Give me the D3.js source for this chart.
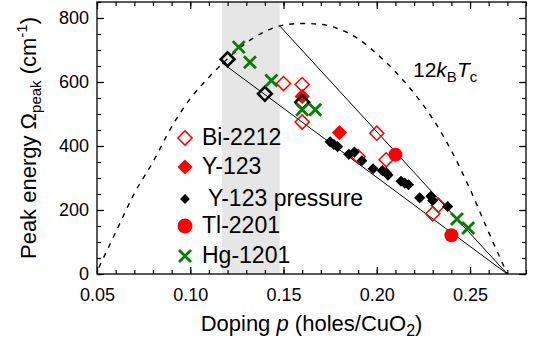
<!DOCTYPE html>
<html>
<head>
<meta charset="utf-8">
<script src="https://cdn.jsdelivr.net/npm/d3@7"></script>
<style>
  html, body { margin: 0; padding: 0; background: #fff; }
  svg { display: block; font-family: "Liberation Sans", Arial, sans-serif; }
</style>
</head>
<body>
<svg id="chart" width="540" height="345"></svg>
<script>
// Doping p vs. peak energy (cm^-1)
const bi2212P     = [0.150, 0.160, 0.160, 0.190, 0.200, 0.205, 0.230, 0.233];
const bi2212Omega = [595,   592,   475,   367,   440,   357,   188,   215];

const y123P     = [0.160, 0.180];
const y123Omega = [555,   442];

const openBlackP     = [0.120, 0.140, 0.160];
const openBlackOmega = [671,   563,   537];

const y123PressureP     = [0.175, 0.177, 0.179, 0.185, 0.188, 0.192, 0.198, 0.203, 0.205, 0.206, 0.213, 0.215, 0.217, 0.223, 0.229, 0.230, 0.238];
const y123PressureOmega = [413,   405,   398,   374,   381,   354,   329,   323,   317,   309,   290,   284,   279,   238,   243,   230,   211];

const tl2201P     = [0.210, 0.240];
const tl2201Omega = [373,   121];

const hg1201P     = [0.126, 0.132, 0.1435, 0.160, 0.167, 0.243, 0.249];
const hg1201Omega = [709,   662,   605,    513,   513,   172,   144];

// 12 kB Tc dome
const domeP     = [0.051, 0.06, 0.07, 0.08, 0.09, 0.10, 0.11, 0.12, 0.13, 0.14, 0.15, 0.16, 0.17, 0.18, 0.19, 0.20, 0.21, 0.22, 0.23, 0.24, 0.25, 0.26, 0.27];
const domeOmega = [20,    130,  252,  350,  460,  548,  615,  673,  722,  758,  778,  783,  780,  765,  735,  688,  632,  565,  485,  385,  265,  130,  0];

// guide lines converging at p = 0.27
const guideStartP     = [0.117, 0.148];
const guideStartOmega = [660,   775];
const guideEnd        = [0.27, 0];

// shaded doping window
const bandP = [0.117, 0.148];

const xTicks = [0.05, 0.10, 0.15, 0.20, 0.25];
const xTickLabels = ["0.05", "0.10", "0.15", "0.20", "0.25"];
const yTicks = [0, 200, 400, 600, 800];
const yTickLabels = ["0", "200", "400", "600", "800"];

const legendItems = ["Bi-2212", "Y-123", " Y-123 pressure", "Tl-2201", "Hg-1201"];

const RED = "#ff0000", GREEN = "#008000";

const svg = d3.select("#chart");
const m = { left: 97, right: 14, top: 2, bottom: 71 };
const W = 540, H = 345;
const x = d3.scaleLinear().domain([0.05, 0.28]).range([m.left, W - m.right]);
const y = d3.scaleLinear().domain([0, 850]).range([H - m.bottom, m.top]);

const plot = svg.append("g");

// band
plot.append("rect")
  .attr("x", x(bandP[0])).attr("y", y(850))
  .attr("width", x(bandP[1]) - x(bandP[0]))
  .attr("height", y(0) - y(850))
  .attr("fill", "#e6e6e6");

// dome
const domeData = domeP.map((p, i) => [p, domeOmega[i]]);
plot.append("path")
  .datum(domeData)
  .attr("d", d3.line().x(d => x(d[0])).y(d => y(d[1])).curve(d3.curveMonotoneX))
  .attr("fill", "none").attr("stroke", "#000")
  .attr("stroke-width", 1.4).attr("stroke-dasharray", "5,6");

// guide lines
guideStartP.forEach((p, i) => {
  plot.append("line")
    .attr("x1", x(p)).attr("y1", y(guideStartOmega[i]))
    .attr("x2", x(guideEnd[0])).attr("y2", y(guideEnd[1]))
    .attr("stroke", "#000").attr("stroke-width", 1);
});

// axes with inward ticks, mirrored on top and right
const minorX = d3.range(0.05, 0.2801, 0.01).map(v => +v.toFixed(2));
const minorY = d3.range(0, 851, 50);

function tickAxis(gen, tr, ticks, size, labels) {
  const g = svg.append("g").attr("transform", tr)
    .call(gen.tickValues(ticks).tickSize(size).tickSizeOuter(0)
      .tickFormat(labels ? (d, i) => labels[i] : () => ""));
  g.select(".domain").remove();
  g.selectAll(".tick line").attr("stroke", "#000").attr("stroke-width", 1.2);
  g.selectAll("text").attr("font-size", 18).attr("fill", "#000")
    .attr("font-family", "'Liberation Sans', Arial, sans-serif");
  return g;
}
// minor ticks
tickAxis(d3.axisBottom(x), `translate(0,${y(0)})`, minorX, -4);
tickAxis(d3.axisTop(x), `translate(0,${y(850)})`, minorX, -4);
tickAxis(d3.axisLeft(y), `translate(${x(0.05)},0)`, minorY, -4);
tickAxis(d3.axisRight(y), `translate(${x(0.28)},0)`, minorY, -4);
// major ticks
const xb = tickAxis(d3.axisBottom(x), `translate(0,${y(0)})`, xTicks, -7, xTickLabels);
xb.selectAll("text").attr("y", 14).attr("dy", "0.71em");
tickAxis(d3.axisTop(x), `translate(0,${y(850)})`, xTicks, -7);
const yl = tickAxis(d3.axisLeft(y), `translate(${x(0.05)},0)`, yTicks, -7, yTickLabels);
yl.selectAll("text").attr("x", -8);
tickAxis(d3.axisRight(y), `translate(${x(0.28)},0)`, yTicks, -7);

// frame
svg.append("rect")
  .attr("x", x(0.05)).attr("y", y(850))
  .attr("width", x(0.28) - x(0.05)).attr("height", y(0) - y(850))
  .attr("fill", "none").attr("stroke", "#000").attr("stroke-width", 1.3);

// markers
const diamond = (size) => d3.symbol(d3.symbolSquare, size)();
function xMark(g, cx, cy, r) {
  g.append("path")
    .attr("d", `M${cx - r},${cy - r}L${cx + r},${cy + r}M${cx - r},${cy + r}L${cx + r},${cy - r}`)
    .attr("stroke", GREEN).attr("stroke-width", 2.8).attr("fill", "none");
}
const pts = plot.append("g");

bi2212P.forEach((p, i) => {
  pts.append("path").attr("d", diamond(100))
    .attr("transform", `translate(${x(p)},${y(bi2212Omega[i])}) rotate(45)`)
    .attr("fill", "none").attr("stroke", RED).attr("stroke-width", 1.5);
});
y123P.forEach((p, i) => {
  pts.append("path").attr("d", diamond(115))
    .attr("transform", `translate(${x(p)},${y(y123Omega[i])}) rotate(45)`)
    .attr("fill", RED);
});
openBlackP.forEach((p, i) => {
  pts.append("path").attr("d", diamond(95))
    .attr("transform", `translate(${x(p)},${y(openBlackOmega[i])}) rotate(45)`)
    .attr("fill", "none").attr("stroke", "#000").attr("stroke-width", 2.6);
});
y123PressureP.forEach((p, i) => {
  pts.append("path").attr("d", diamond(62))
    .attr("transform", `translate(${x(p)},${y(y123PressureOmega[i])}) rotate(45)`)
    .attr("fill", "#000");
});
tl2201P.forEach((p, i) => {
  pts.append("circle").attr("cx", x(p)).attr("cy", y(tl2201Omega[i])).attr("r", 7)
    .attr("fill", RED);
});
hg1201P.forEach((p, i) => xMark(pts, x(p), y(hg1201Omega[i]), 6));

// legend
const lg = svg.append("g");
const legendY = [138, 167, 199, 226, 256];
const lx = 185;
lg.append("path").attr("d", diamond(100))
  .attr("transform", `translate(${lx},${legendY[0]}) rotate(45)`)
  .attr("fill", "none").attr("stroke", RED).attr("stroke-width", 1.5);
lg.append("path").attr("d", diamond(115))
  .attr("transform", `translate(${lx},${legendY[1]}) rotate(45)`)
  .attr("fill", RED);
lg.append("path").attr("d", diamond(48))
  .attr("transform", `translate(${lx},${legendY[2]}) rotate(45)`)
  .attr("fill", "#000");
lg.append("circle").attr("cx", lx).attr("cy", legendY[3]).attr("r", 7.5).attr("fill", RED);
xMark(lg, lx, legendY[4], 6);
legendItems.forEach((t, i) => {
  lg.append("text").attr("x", 202).attr("y", legendY[i] + 7)
    .attr("font-size", 23).attr("fill", "#000")
    .attr("xml:space", "preserve").style("white-space", "pre")
    .text(t);
});

// 12 kB Tc label
const tc = svg.append("text").attr("x", 413).attr("y", 77).attr("font-size", 21).attr("fill", "#000");
tc.append("tspan").text("12");
tc.append("tspan").attr("font-style", "italic").text("k");
tc.append("tspan").attr("font-size", 15).attr("dy", 5).text("B");
tc.append("tspan").attr("font-style", "italic").attr("dy", -5).text("T");
tc.append("tspan").attr("font-size", 15).attr("dy", 5).text("c");

// x-axis title
const xt = svg.append("text").attr("x", x(0.165)).attr("y", 331)
  .attr("text-anchor", "middle").attr("font-size", 22).attr("fill", "#000");
xt.append("tspan").text("Doping ");
xt.append("tspan").attr("font-style", "italic").text("p");
xt.append("tspan").text(" (holes/CuO");
xt.append("tspan").attr("font-size", 16).attr("dy", 5).text("2");
xt.append("tspan").attr("dy", -5).text(")");

// y-axis title
const yt = svg.append("text")
  .attr("transform", `translate(36,${y(425)}) rotate(-90)`)
  .attr("text-anchor", "middle").attr("font-size", 22).attr("fill", "#000");
yt.append("tspan").text("Peak energy \u03A9");
yt.append("tspan").attr("font-size", 15).attr("dy", 5).text("peak");
yt.append("tspan").attr("dy", -5).text(" (cm");
yt.append("tspan").attr("font-size", 15).attr("dy", -9).text("-1");
yt.append("tspan").attr("dy", 9).text(")");
</script>
</body>
</html>
